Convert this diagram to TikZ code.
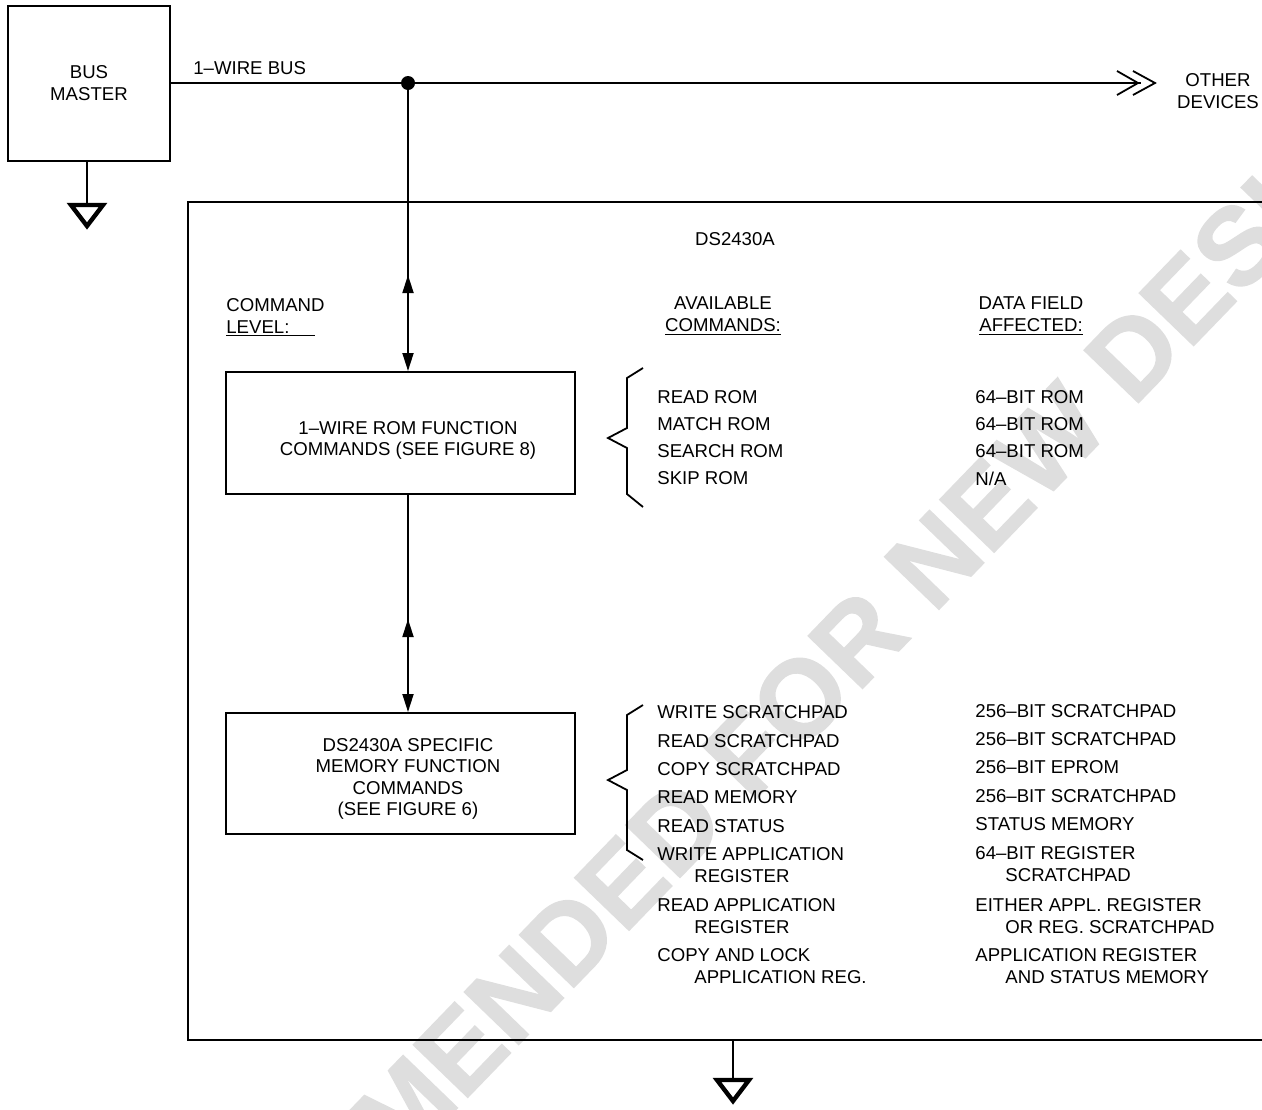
\documentclass[tikz,border=0pt]{standalone}
\usepackage{fontspec}
\setmainfont{Liberation Sans}
\newfontfamily\wmfont[FakeBold=1.2]{Liberation Sans Bold}
\usetikzlibrary{positioning,arrows.meta,decorations.markings}

\begin{document}
\begin{tikzpicture}[x=0.5pt,y=-0.5pt,
    font=\fontsize{9.3}{10.75}\selectfont,
    >={Triangle[length=9pt,width=5.5pt]},
    wire/.style={line width=0.9pt},
    box/.style={draw,line width=1pt,inner sep=0pt},
    boxtext/.style={align=center,inner sep=0pt},
    item/.style={anchor=base west,inner sep=0pt,align=left},
    head/.style={anchor=base,inner sep=0pt,align=center},
    dot/.style={circle,fill,inner sep=0pt,minimum size=7pt},
    gndtri/.style={line width=2.2pt,line join=miter},
    upmark/.style={postaction={decorate},
      decoration={markings,mark=at position #1 with {\arrowreversed{>}}}},
    watermark/.style={text=black!13,inner sep=0pt,rotate=46,
      font=\fontsize{55}{55}\selectfont\wmfont}]
   \useasboundingbox (0,0) rectangle (1262,1109);
   \clip (0,0) rectangle (1262,1109);
   \node[watermark] (wm) at (652,852) {NOT RECOMMENDED FOR NEW DESIGN};

   % bus master and the 1-wire bus
   \node[box,minimum width=81pt,minimum height=77.5pt,align=center] (master) at (89,83) {BUS\\MASTER};
   \node[dot] (dot) at (408,83) {};
   \node[anchor=base west,inner sep=0pt] (buslbl) at (193,74) {1–WIRE BUS};
   \coordinate (busend) at (1155,83);
   \draw[wire] (master.east) -- (dot.center) -- ([xshift=-7pt]busend);
   \draw[wire] (busend) ++(-38,-12) -- ++(21,12) -- ++(-21,12);
   \draw[wire] (busend) ++(-22,-12) -- ++(22,12) -- ++(-22,12);
   \node[head] (other) at (1218,108) {OTHER\\DEVICES};
   \coordinate (g1) at (87,203);
   \draw[wire] (master.south -| g1) -- (g1);
   \draw[gndtri] (g1) ++(-16,2) -- ++(32,0) -- ++(-16,21) -- cycle;

   % the device
   \node[box,minimum width=556pt,minimum height=419pt] (chip) at (744,621) {};
   \node[head] (chiplbl) at (735,245) {DS2430A};
   \node[item] (lvl) at (226,333) {COMMAND\\\underline{LEVEL:\hspace{13pt}}};
   \node[head] (avail) at (723,331) {AVAILABLE\\\underline{COMMANDS:}};
   \node[head] (field) at (1031,331) {DATA FIELD\\\underline{AFFECTED:}};

   \node[box,minimum width=174.5pt,minimum height=61pt] (rom) at (400.5,433) {};
   \node[boxtext] (romtxt) at (408,440.5) {1–WIRE ROM FUNCTION\\COMMANDS (SEE FIGURE 8)};
   \node[box,minimum width=174.5pt,minimum height=60.5pt] (mem) at (400.5,773.5) {};
   \node[boxtext] (memtxt) at (408,779) {DS2430A SPECIFIC\\MEMORY FUNCTION\\COMMANDS\\(SEE FIGURE 6)};
   \draw[wire,->,upmark=96pt] (dot.center) -- (dot |- rom.north);
   \draw[wire,->,upmark=62pt] (rom.south -| dot) -- (mem.north -| dot);

   % braces
   \draw[wire] (643,368) -- (627,378) -- (627,428) -- (608,438) -- (627,448) -- (627,494) -- (643,507);
   \draw[wire] (643,705) -- (627,715) -- (627,770) -- (608,780) -- (627,790) -- (627,850) -- (643,860);

   % rom commands
   \node[item] (c1) at (657,403) {READ ROM};
   \node[item] (c2) at (657,430) {MATCH ROM};
   \node[item] (c3) at (657,457) {SEARCH ROM};
   \node[item] (c4) at (657,484) {SKIP ROM};
   \node[item] (d1) at (975,403) {64–BIT ROM};
   \node[item] (d2) at (975,430) {64–BIT ROM};
   \node[item] (d3) at (975,457) {64–BIT ROM};
   \node[item] (d4) at (975,485) {N/A};

   % memory commands
   \node[item] (m1) at (657,718) {WRITE SCRATCHPAD};
   \node[item] (m2) at (657,747) {READ SCRATCHPAD};
   \node[item] (m3) at (657,775) {COPY SCRATCHPAD};
   \node[item] (m4) at (657,803) {READ MEMORY};
   \node[item] (m5) at (657,832) {READ STATUS};
   \node[item] (m6) at (657,882) {WRITE APPLICATION\\\hspace*{18.5pt}REGISTER};
   \node[item] (m7) at (657,933) {READ APPLICATION\\\hspace*{18.5pt}REGISTER};
   \node[item] (m8) at (657,983) {COPY AND LOCK\\\hspace*{18.5pt}APPLICATION REG.};
   \node[item] (f1) at (975,717) {256–BIT SCRATCHPAD};
   \node[item] (f2) at (975,745) {256–BIT SCRATCHPAD};
   \node[item] (f3) at (975,773) {256–BIT EPROM};
   \node[item] (f4) at (975,802) {256–BIT SCRATCHPAD};
   \node[item] (f5) at (975,830) {STATUS MEMORY};
   \node[item] (f6) at (975,881) {64–BIT REGISTER\\\hspace*{15pt}SCRATCHPAD};
   \node[item] (f7) at (975,933) {EITHER APPL. REGISTER\\\hspace*{15pt}OR REG. SCRATCHPAD};
   \node[item] (f8) at (975,983) {APPLICATION REGISTER\\\hspace*{15pt}AND STATUS MEMORY};

   \coordinate (g2) at (733,1078);
   \draw[wire] (chip.south -| g2) -- (g2);
   \draw[gndtri] (g2) ++(-16,2) -- ++(32,0) -- ++(-16,21) -- cycle;
\end{tikzpicture}
\end{document}
